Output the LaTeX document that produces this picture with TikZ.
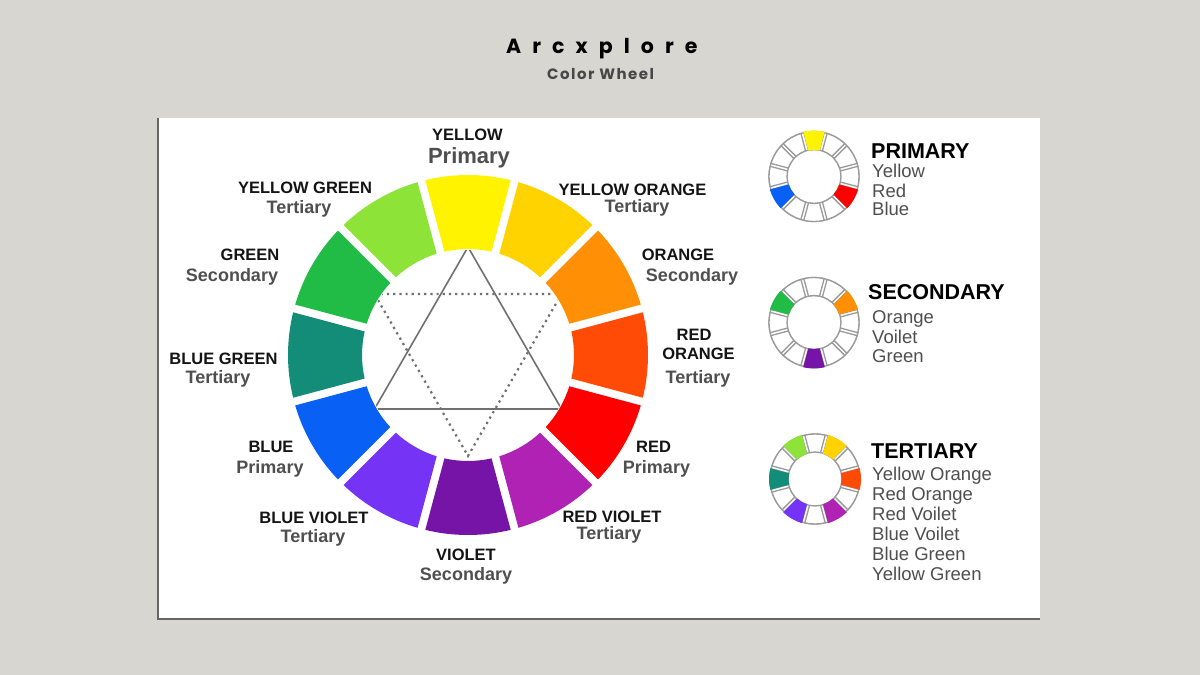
\documentclass[tikz,border=0pt]{standalone}
\usepackage{fontspec}
\setmainfont{Liberation Sans}
\newfontfamily\titlefont[LetterSpace=54]{Poppins}
\newfontfamily\subtitlefont[LetterSpace=10]{Poppins}
\definecolor{bgc}{HTML}{D8D6D1}
\definecolor{txtgray}{HTML}{4F4F4F}
\definecolor{ringgray}{HTML}{9A9A9A}
\definecolor{trigray}{HTML}{707070}
\definecolor{cY}{HTML}{FFF300}
\definecolor{cYO}{HTML}{FFD300}
\definecolor{cO}{HTML}{FF9005}
\definecolor{cRO}{HTML}{FF4B05}
\definecolor{cR}{HTML}{FF0000}
\definecolor{cRV}{HTML}{B022B4}
\definecolor{cV}{HTML}{7614A8}
\definecolor{cBV}{HTML}{7433F5}
\definecolor{cB}{HTML}{0860F5}
\definecolor{cBG}{HTML}{138C78}
\definecolor{cG}{HTML}{21BC45}
\definecolor{cYG}{HTML}{8EE338}
\tikzset{
  caplabel/.style={font=\fontsize{16.5}{18}\selectfont\bfseries, text=black!92, anchor=base, inner sep=0pt},
  sublabel/.style={font=\fontsize{18}{20}\selectfont\bfseries, text=txtgray, anchor=base, inner sep=0pt},
  headlabel/.style={font=\fontsize{21.5}{24}\selectfont\bfseries, text=black, anchor=base west, inner sep=0pt},
  itemlabel/.style={font=\fontsize{18.5}{20}\selectfont, text=txtgray, anchor=base west, inner sep=0pt},
  triline/.style={draw=trigray, line width=1.6pt},
  tridots/.style={draw=trigray, line width=2.2pt, dash pattern=on 2.2pt off 4pt},
  swline/.style={draw=ringgray, line width=1.3pt},
}
\newcommand\drawsmallwheel[3]{%
  \begin{scope}[shift={(#1,#2)}]
    \draw[swline] (0,0) circle[radius=45];
    \draw[swline] (0,0) circle[radius=27];
    \foreach \p in {0,30,...,330}{%
      \pgfmathsetmacro\ta{\p-15+1.9}%
      \pgfmathsetmacro\tb{\p+15-1.9}%
      \pgfmathsetmacro\tc{\p+15-3.2}%
      \pgfmathsetmacro\td{\p-15+3.2}%
      \draw[swline, fill=white] (\ta:45) arc[start angle=\ta, end angle=\tb, radius=45] -- (\tc:27) arc[start angle=\tc, end angle=\td, radius=27] -- cycle;
    }
    \foreach \p/\c in {#3}{%
      \pgfmathsetmacro\ta{\p-15+1.5}%
      \pgfmathsetmacro\tb{\p+15-1.5}%
      \pgfmathsetmacro\tc{\p+15-2.6}%
      \pgfmathsetmacro\td{\p-15+2.6}%
      \fill[\c] (\ta:46) arc[start angle=\ta, end angle=\tb, radius=46] -- (\tc:26.5) arc[start angle=\tc, end angle=\td, radius=26.5] -- cycle;
    }
  \end{scope}}
\begin{document}
\begin{tikzpicture}[x=1pt,y=-1pt]
  % background and card
  \fill[bgc] (0,0) rectangle (1200,675);
  \useasboundingbox (0,0) rectangle (1200,675);
  \fill[white] (158,118) rectangle (1040,619);
  \draw[black!60, line width=1.5pt] (158,118) -- (158,619) -- (1040,619);

  % title
  \node[anchor=base west, inner sep=0pt, font=\titlefont\fontsize{20.5}{22}\selectfont\bfseries] (title) at (506,53) {Arcxplore};
  \node[anchor=base west, inner sep=0pt, text=black!72, font=\subtitlefont\fontsize{15}{17}\selectfont\bfseries] (subtitle) at (547,79) {Color Wheel};

  % main wheel
  \begin{scope}[shift={(468,355)}]
    \foreach \p/\c in {-90/cY,-60/cYO,-30/cO,0/cRO,30/cR,60/cRV,90/cV,120/cBV,150/cB,180/cBG,210/cG,240/cYG}{%
      \pgfmathsetmacro\ta{\p-15+1.27}%
      \pgfmathsetmacro\tb{\p+15-1.27}%
      \pgfmathsetmacro\tc{\p+15-2.16}%
      \pgfmathsetmacro\td{\p-15+2.16}%
      \fill[\c] (\ta:180) arc[start angle=\ta, end angle=\tb, radius=180] -- (\tc:106) arc[start angle=\tc, end angle=\td, radius=106] -- cycle;
    }
    \begin{scope}
      \clip (0,0) circle[radius=105];
      \draw[triline] (0,-108) -- (93.5,54) -- (-93.5,54) -- cycle;
      \draw[tridots] (-93.5,-61) -- (93.5,-61) -- (0,101) -- cycle;
    \end{scope}
  \end{scope}

  % main wheel labels
  \node[caplabel] (lY) at (467.5,140) {YELLOW};
  \node[sublabel, font=\fontsize{22}{24}\selectfont\bfseries] (lYs) at (469,163) {Primary};
  \node[caplabel] (lYG) at (305,193) {YELLOW GREEN};
  \node[sublabel] (lYGs) at (299,213) {Tertiary};
  \node[caplabel] (lG) at (250,260) {GREEN};
  \node[sublabel] (lGs) at (232,281) {Secondary};
  \node[caplabel] (lBG) at (223.5,364) {BLUE GREEN};
  \node[sublabel] (lBGs) at (218,383) {Tertiary};
  \node[caplabel] (lB) at (271,452) {BLUE};
  \node[sublabel] (lBs) at (270,473) {Primary};
  \node[caplabel] (lBV) at (314,523) {BLUE VIOLET};
  \node[sublabel] (lBVs) at (313,542) {Tertiary};
  \node[caplabel] (lV) at (466,560) {VIOLET};
  \node[sublabel] (lVs) at (466,580) {Secondary};
  \node[caplabel] (lRV) at (612,522) {RED VIOLET};
  \node[sublabel] (lRVs) at (609,539) {Tertiary};
  \node[caplabel] (lR) at (653.5,452) {RED};
  \node[sublabel] (lRs) at (656.5,473) {Primary};
  \node[caplabel] (lRO1) at (694,340) {RED};
  \node[caplabel] (lRO2) at (698.5,359) {ORANGE};
  \node[sublabel] (lROs) at (698,383) {Tertiary};
  \node[caplabel] (lO) at (678,260) {ORANGE};
  \node[sublabel] (lOs) at (692,281) {Secondary};
  \node[caplabel] (lYO) at (632.5,195) {YELLOW ORANGE};
  \node[sublabel] (lYOs) at (637,212) {Tertiary};

  % small wheels
  \drawsmallwheel{814}{176.5}{-90/cY,30/cR,150/cB}
  \drawsmallwheel{814}{322.5}{-30/cO,210/cG,90/cV}
  \drawsmallwheel{815}{479}{-120/cYG,-60/cYO,0/cRO,60/cRV,120/cBV,180/cBG}

  % legend texts
  \node[headlabel] (hP) at (871,158) {PRIMARY};
  \node[itemlabel] (iP1) at (872,177) {Yellow};
  \node[itemlabel] (iP2) at (872,197) {Red};
  \node[itemlabel] (iP3) at (872,215) {Blue};

  \node[headlabel] (hS) at (868,299) {SECONDARY};
  \node[itemlabel] (iS1) at (872,323) {Orange};
  \node[itemlabel] (iS2) at (872,343) {Voilet};
  \node[itemlabel] (iS3) at (872,362) {Green};

  \node[headlabel] (hT) at (871,458) {TERTIARY};
  \node[itemlabel] (iT1) at (872,480) {Yellow Orange};
  \node[itemlabel] (iT2) at (872,500) {Red Orange};
  \node[itemlabel] (iT3) at (872,520) {Red Voilet};
  \node[itemlabel] (iT4) at (872,540) {Blue Voilet};
  \node[itemlabel] (iT5) at (872,560) {Blue Green};
  \node[itemlabel] (iT6) at (872,580) {Yellow Green};
\end{tikzpicture}
\end{document}
